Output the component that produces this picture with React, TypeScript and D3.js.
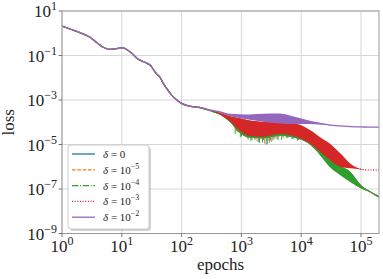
import React from "react";
import * as d3 from "d3";

// ---------- data ----------
// shared early part (all five runs coincide)
const earlyEpochs = [1, 1.36, 2, 2.94, 3.8, 4.9, 6.3, 8.2, 10, 13.7, 18.9, 24.4, 29.6, 38.4, 43.5, 49.5, 56, 68, 83, 100, 130, 200];
const earlyLoss = [2.12, 1.55, 1.06, 0.66, 0.38, 0.234, 0.19, 0.204, 0.224, 0.148, 0.0676, 0.049, 0.0372, 0.0145, 0.0105, 0.00562, 0.00339, 0.00166, 0.001, 7.1e-4, 5.4e-4, 4.6e-4];

// later part: oscillating band, upper / lower envelope
const lateEpochs = [300, 450, 630, 950, 1380, 2300, 4400, 8400, 14000, 20500, 30000, 45000, 66000, 100000, 141000, 200000];

const d0Hi = [3.4e-4, 2.5e-4, 1.8e-4, 1.45e-4, 1.17e-4, 1.0e-4, 8.9e-5, 7.9e-5, 4.0e-5, 1.8e-5, 6.3e-6, 1.2e-6, 6.0e-7, 1.5e-7, 7.6e-8, 4.5e-8];
const d0Lo = [3.3e-4, 2.1e-4, 1.07e-4, 3.2e-5, 2.0e-5, 1.9e-5, 2.5e-5, 1.9e-5, 1.0e-5, 3.5e-6, 1.0e-6, 4.3e-7, 2.1e-7, 1.07e-7, 7.4e-8, 4.4e-8];
const d5Hi = [3.4e-4, 2.5e-4, 1.8e-4, 1.45e-4, 1.17e-4, 1.0e-4, 8.9e-5, 7.9e-5, 4.0e-5, 1.8e-5, 6.3e-6, 1.2e-6, 6.0e-7, 1.5e-7, 7.6e-8, 4.5e-8];
const d5Lo = [3.3e-4, 2.1e-4, 1.07e-4, 3.2e-5, 2.0e-5, 1.9e-5, 2.5e-5, 1.9e-5, 1.0e-5, 3.5e-6, 1.0e-6, 4.3e-7, 2.1e-7, 1.07e-7, 7.4e-8, 4.4e-8];
const d4Hi = [3.4e-4, 2.5e-4, 1.8e-4, 1.45e-4, 1.17e-4, 1.0e-4, 8.9e-5, 7.9e-5, 4.0e-5, 1.8e-5, 6.3e-6, 1.2e-6, 6.0e-7, 1.5e-7, 7.6e-8, 4.5e-8];
const d4Lo = [3.3e-4, 2.1e-4, 1.07e-4, 3.2e-5, 2.0e-5, 1.9e-5, 2.5e-5, 1.9e-5, 1.0e-5, 3.5e-6, 1.0e-6, 4.3e-7, 2.1e-7, 1.07e-7, 7.4e-8, 4.4e-8];
const d3Hi = [3.5e-4, 2.6e-4, 1.9e-4, 1.5e-4, 1.2e-4, 1.05e-4, 9.3e-5, 8.3e-5, 4.5e-5, 2.2e-5, 1.1e-5, 4.0e-6, 1.4e-6, 7.9e-7, 7.2e-7, 7.1e-7];
const d3Lo = [3.4e-4, 2.2e-4, 1.17e-4, 4.0e-5, 2.4e-5, 2.2e-5, 3.0e-5, 2.2e-5, 1.1e-5, 4.8e-6, 2.0e-6, 1.0e-6, 8.5e-7, 7.6e-7, 7.2e-7, 7.1e-7];
const d2Hi = [3.5e-4, 3.0e-4, 2.4e-4, 2.3e-4, 2.25e-4, 2.4e-4, 2.5e-4, 1.66e-4, 1.17e-4, 9.5e-5, 7.6e-5, 6.8e-5, 6.3e-5, 6.2e-5, 6.0e-5, 6.0e-5];
const d2Lo = [3.5e-4, 2.7e-4, 1.9e-4, 1.5e-4, 1.3e-4, 1.05e-4, 8.9e-5, 8.3e-5, 8.3e-5, 7.9e-5, 7.4e-5, 6.8e-5, 6.3e-5, 6.2e-5, 6.0e-5, 6.0e-5];

// downward spikes of the noisy runs (delta = 0, 1e-5, 1e-4)
const spikeEpochs = [820, 1000, 1250, 1500, 1750, 2000, 2350, 2700, 3050, 3500, 4100, 4900, 6000, 7300, 9000];
const d0Spikes = [4.0e-5, 2.4e-5, 1.9e-5, 1.6e-5, 1.8e-5, 1.2e-5, 1.6e-5, 1.05e-5, 1.5e-5, 1.9e-5, 1.6e-5, 2.3e-5, 2.0e-5, 1.7e-5, 1.6e-5];
const d5Spikes = [3.4e-5, 2.8e-5, 1.6e-5, 1.9e-5, 1.4e-5, 1.7e-5, 1.1e-5, 1.5e-5, 1.3e-5, 1.7e-5, 2.1e-5, 1.9e-5, 2.4e-5, 2.1e-5, 1.8e-5];
const d4Spikes = [3.0e-5, 2.1e-5, 2.2e-5, 1.4e-5, 1.6e-5, 1.3e-5, 1.2e-5, 1.0e-5, 1.2e-5, 1.5e-5, 1.8e-5, 1.6e-5, 1.9e-5, 1.8e-5, 1.5e-5];

const seriesNames = ["0", "-5", "-4", "-3", "-2"];
const colors = ["#1f77b4", "#ff7f0e", "#2ca02c", "#d62728", "#9467bd"];
const dashes = ["", "3.7,1.6", "6.4,1.6,1,1.6", "1,1.65", ""];

const xTicks = [1, 10, 100, 1000, 10000, 100000];
const xTickExp = ["0", "1", "2", "3", "4", "5"];
const yTicks = [10, 0.1, 1e-3, 1e-5, 1e-7, 1e-9];
const yTickExp = ["1", "−1", "−3", "−5", "−7", "−9"];

// ---------- layout ----------
const W = 383, H = 279;
const L = 62, R = 379, T = 11, B = 233.5;
const FONT = "'Liberation Serif', 'Times New Roman', serif";

export default function App() {
  const x = d3.scaleLog().domain([1, 2e5]).range([L, R]);
  const y = d3.scaleLog().domain([1e-9, 10]).range([B, T]);

  const his = [d0Hi, d5Hi, d4Hi, d3Hi, d2Hi];
  const los = [d0Lo, d5Lo, d4Lo, d3Lo, d2Lo];
  const spikes = [d0Spikes, d5Spikes, d4Spikes, null, null];
  const spikeShift = [1.0, 1.04, 0.96, 1, 1];

  const curve = d3.curveMonotoneX;
  const line = d3.line<[number, number]>().x(d => x(d[0])).y(d => y(d[1])).curve(curve);
  const area = d3.area<[number, number, number]>()
    .x(d => x(d[0])).y0(d => y(d[2])).y1(d => y(d[1])).curve(curve);

  const interpLog = (arr: number[], e: number) => {
    const le = Math.log10(e);
    for (let i = 0; i < lateEpochs.length - 1; i++) {
      const a = Math.log10(lateEpochs[i]), b = Math.log10(lateEpochs[i + 1]);
      if (le >= a && le <= b) {
        const t = (le - a) / (b - a);
        return Math.pow(10, Math.log10(arr[i]) * (1 - t) + Math.log10(arr[i + 1]) * t);
      }
    }
    return arr[arr.length - 1];
  };

  const series = seriesNames.map((_, i) => {
    const mid: [number, number][] = [
      ...earlyEpochs.map((e, j) => [e, earlyLoss[j]] as [number, number]),
      ...lateEpochs.map((e, j) => [e, Math.sqrt(his[i][j] * los[i][j])] as [number, number]),
    ];
    const band: [number, number, number][] = lateEpochs.map((e, j) => [e, his[i][j], los[i][j]]);
    return { mid, band };
  });

  return (
    <svg width={W} height={H} style={{ position: "absolute", left: 0, top: 0 }} fontFamily={FONT}>
      <rect x={0} y={0} width={W} height={H} fill="#fff" />
      <defs>
        <clipPath id="plot">
          <rect x={L} y={T} width={R - L} height={B - T} />
        </clipPath>
      </defs>
      {/* grid */}
      {xTicks.map((t, i) => (
        <line key={"gx" + i} x1={x(t)} x2={x(t)} y1={T} y2={B} stroke="#d3d3d3" strokeWidth={0.9} />
      ))}
      {yTicks.map((t, i) => (
        <line key={"gy" + i} x1={L} x2={R} y1={y(t)} y2={y(t)} stroke="#d3d3d3" strokeWidth={0.9} />
      ))}
      {/* data */}
      <g clipPath="url(#plot)">
        {series.map((s, i) => (
          <g key={"s" + i}>
            <path d={area(s.band) || ""} fill={colors[i]} stroke="none" />
            <path d={line(s.mid) || ""} fill="none" stroke={colors[i]} strokeWidth={1.3} strokeDasharray={dashes[i]} />
            {spikes[i] && spikeEpochs.map((e, j) => {
              const ee = e * spikeShift[i];
              return (
                <line key={"sp" + j} x1={x(ee)} x2={x(ee)} y1={y(interpLog(los[i], ee)) - 2} y2={y((spikes[i] as number[])[j])}
                  stroke={colors[i]} strokeWidth={0.9} />
              );
            })}
          </g>
        ))}
      </g>
      {/* frame */}
      <rect x={L} y={T} width={R - L} height={B - T} fill="none" stroke="#999" strokeWidth={1} />
      {/* ticks */}
      {xTicks.map((t, i) => (
        <g key={"tx" + i}>
          <line x1={x(t)} x2={x(t)} y1={B} y2={B + 3.5} stroke="#555" strokeWidth={0.8} />
          <text x={x(t)} y={252} textAnchor="middle" fontSize={17} fill="#222">
            10<tspan dy={-7} fontSize={12}>{xTickExp[i]}</tspan>
          </text>
        </g>
      ))}
      {yTicks.map((t, i) => (
        <g key={"ty" + i}>
          <line x1={L - 3.5} x2={L} y1={y(t)} y2={y(t)} stroke="#555" strokeWidth={0.8} />
          <text x={57} y={y(t) + 6} textAnchor="end" fontSize={17} fill="#222">
            10<tspan dy={-7} fontSize={12}>{yTickExp[i]}</tspan>
          </text>
        </g>
      ))}
      <text x={(L + R) / 2} y={270} textAnchor="middle" fontSize={17} fill="#222">epochs</text>
      <text transform={`translate(14,${(T + B) / 2}) rotate(-90)`} textAnchor="middle" fontSize={17} fill="#222">loss</text>
      {/* legend */}
      <g>
        <rect x={70} y={147} width={81} height={84} rx={3} fill="#999" opacity={0.45} />
        <rect x={68} y={145} width={81} height={84} rx={3} fill="#fff" stroke="#ccc" strokeWidth={1} />
        {seriesNames.map((n, i) => {
          const ry = 154 + i * 15.8;
          return (
            <g key={"lg" + i}>
              <line x1={72} x2={95} y1={ry} y2={ry} stroke={colors[i]} strokeWidth={1.3} strokeDasharray={dashes[i]} />
              <text x={103} y={ry + 4} fontSize={11} fill="#222">
                <tspan fontStyle="italic">δ</tspan> = {n === "0" ? "0" : "10"}
                {n !== "0" && <tspan dy={-5} fontSize={8}>{"−" + n.slice(1)}</tspan>}
              </text>
            </g>
          );
        })}
      </g>
    </svg>
  );
}
